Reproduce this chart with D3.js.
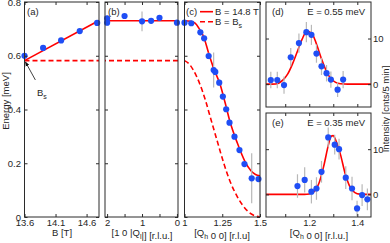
<!DOCTYPE html>
<html>
<head>
<meta charset="utf-8">
<script src="https://cdn.jsdelivr.net/npm/d3@7"></script>
<style>
  body { margin: 0; background: #fff; }
  text { font-family: "Liberation Sans", Arial, sans-serif; font-size: 9.5px; fill: #262626; }
</style>
</head>
<body>
<svg width="390" height="243"></svg>
<script>
// ---- data ----
// (a) energy vs field
const fieldB = [13.6, 13.9, 14.19, 14.49, 14.77];
const fieldE = [0.600, 0.629, 0.657, 0.692, 0.722];
const fieldFitB = [13.6, 14.8];
const fieldFitE = [0.582, 0.731];
const gapBs = 0.582;

// (b) energy vs [1 0 |Ql|]
const qlQ = [2, 2, 1.5, 1, 0.74, 0.5, 0];
const qlE = [0.739, 0.723, 0.748, 0.728, 0.730, 0.741, 0.723];
const qlErr = [0.01, 0.01, 0.01, 0.037, 0.01, 0.01, 0.01];
const qlFit = 0.730;

// (c) energy vs [Qh 0 0]
const qhQ = [1.0, 1.045, 1.105, 1.13, 1.16, 1.193, 1.204, 1.23, 1.254, 1.276, 1.298, 1.331, 1.364, 1.397, 1.445, 1.49];
const qhE = [0.723, 0.721, 0.687, 0.665, 0.599, 0.547, 0.540, 0.500, 0.448, 0.401, 0.351, 0.299, 0.249, 0.197, 0.144, 0.141];
const qhErr = [0.01, 0.01, 0.012, 0.01, 0.012, 0.065, 0.012, 0.012, 0.01, 0.01, 0.01, 0.01, 0.01, 0.01, 0.093, 0.01];
const fitHighQ = [1.0, 1.04, 1.07, 1.095, 1.127, 1.16, 1.193, 1.237, 1.27, 1.3, 1.35, 1.4, 1.44, 1.47, 1.5];
const fitHighE = [0.730, 0.728, 0.721, 0.703, 0.671, 0.609, 0.553, 0.491, 0.423, 0.357, 0.275, 0.207, 0.172, 0.158, 0.153];
const fitBsQ = [1.0, 1.03, 1.06, 1.1, 1.14, 1.17, 1.215, 1.26, 1.3, 1.35, 1.39, 1.43, 1.5];
const fitBsE = [0.582, 0.570, 0.545, 0.497, 0.432, 0.373, 0.286, 0.200, 0.135, 0.075, 0.040, 0.016, 0.0];

// (d) scan at E = 0.55 meV
const scanDQ = [1.04, 1.067, 1.095, 1.123, 1.157, 1.188, 1.209, 1.23, 1.251, 1.272, 1.29, 1.318, 1.341];
const scanDI = [0.9, 0.9, -0.2, 5.9, 9.0, 11.4, 10.8, 6.7, 3.9, 2.4, 1.0, -1.2, 1.0];
const scanDErr = [1.8, 1.8, 1.9, 2.0, 2.1, 2.2, 2.2, 2.0, 1.9, 1.8, 1.8, 1.6, 1.9];
const fitDQ = [1.02, 1.06, 1.09, 1.11, 1.13, 1.15, 1.17, 1.19, 1.21, 1.23, 1.25, 1.27, 1.29, 1.31, 1.33, 1.36, 1.46];
const fitDI = [0, 0.05, 0.9, 2.2, 4.4, 7.1, 9.8, 11.6, 11.2, 8.8, 5.7, 3.0, 1.2, 0.4, 0.1, 0, 0];

// (e) scan at E = 0.35 meV
const scanEQ = [1.151, 1.181, 1.209, 1.23, 1.251, 1.279, 1.306, 1.324, 1.352, 1.378, 1.399, 1.42, 1.442];
const scanEI = [1.85, 3.2, 0.6, 1.3, 5.0, 12.6, 11.0, 10.0, 3.7, 1.3, -3.1, -0.15, -1.1];
const scanEErr = [2.6, 2.8, 2.6, 2.5, 2.4, 2.2, 2.2, 2.3, 2.5, 2.6, 1.7, 2.4, 2.4];
const fitEQ = [1.02, 1.18, 1.2, 1.22, 1.24, 1.26, 1.28, 1.29, 1.3, 1.31, 1.33, 1.35, 1.37, 1.39, 1.41, 1.46];
const fitEI = [0, 0, 0.1, 0.6, 2.4, 6.2, 11.0, 12.8, 13.0, 12.0, 8.8, 4.5, 1.6, 0.4, 0.05, 0];

// ---- layout ----
const svg = d3.select("svg");
const blue = "#1f4ef5", red = "#ff0000", axisColor = "#2b2b2b", errColor = "#b8b8b8";

const box = {
  a: {l: 24.5, r: 99, t: 2, b: 217},
  b: {l: 105, r: 178, t: 2, b: 217},
  c: {l: 184.5, r: 260, t: 2, b: 217},
  d: {l: 266, r: 371, t: 2, b: 107},
  e: {l: 266, r: 371, t: 113, b: 217}
};

const defs = svg.append("defs");
defs.append("marker")
    .attr("id", "arrow")
    .attr("viewBox", "0 0 10 10")
    .attr("refX", 9).attr("refY", 5)
    .attr("markerWidth", 6).attr("markerHeight", 6)
    .attr("orient", "auto")
  .append("path")
    .attr("d", "M0,1 L10,5 L0,9 Z")
    .attr("fill", "#111");

function panel(key, xDomain, yDomain) {
  const bx = box[key];
  const x = d3.scaleLinear().domain(xDomain).range([bx.l, bx.r]);
  const y = d3.scaleLinear().domain(yDomain).range([bx.b, bx.t]);
  defs.append("clipPath").attr("id", "clip-" + key)
    .append("rect")
      .attr("x", bx.l).attr("y", bx.t)
      .attr("width", bx.r - bx.l).attr("height", bx.b - bx.t);
  const g = svg.append("g");
  const plot = g.append("g").attr("clip-path", `url(#clip-${key})`);
  return {bx, x, y, g, plot};
}

function axes(p, o) {
  const {bx, x, y, g} = p;
  const ax = g.append("g").attr("color", axisColor);
  const fx = o.xfmt || (() => "");
  ax.append("g").attr("transform", `translate(0,${bx.b})`)
      .call(d3.axisBottom(x).tickValues(o.xt).tickSize(-3).tickPadding(2.5).tickFormat(fx));
  ax.append("g").attr("transform", `translate(0,${bx.t})`)
      .call(d3.axisTop(x).tickValues(o.xt).tickSize(-3).tickFormat(""));
  ax.append("g").attr("transform", `translate(${bx.l},0)`)
      .call(d3.axisLeft(y).tickValues(o.yt).tickSize(-3).tickPadding(3.5)
        .tickFormat(o.yside === "left" ? o.yfmt : ""));
  ax.append("g").attr("transform", `translate(${bx.r},0)`)
      .call(d3.axisRight(y).tickValues(o.yt).tickSize(-3).tickPadding(2)
        .tickFormat(o.yside === "right" ? o.yfmt : ""));
  ax.selectAll(".domain").remove();
  ax.selectAll("g").attr("font-size", null).attr("font-family", null);
  ax.append("rect")
      .attr("x", bx.l).attr("y", bx.t)
      .attr("width", bx.r - bx.l).attr("height", bx.b - bx.t)
      .attr("fill", "none").attr("stroke", axisColor).attr("stroke-width", 1);
}

function curve(p, xs, ys, dashed) {
  const line = d3.line().x(d => p.x(d[0])).y(d => p.y(d[1])).curve(d3.curveMonotoneX);
  p.plot.append("path")
      .datum(d3.zip(xs, ys).sort((a, b) => a[0] - b[0]))
      .attr("d", line)
      .attr("fill", "none")
      .attr("stroke", red)
      .attr("stroke-width", 1.6)
      .attr("stroke-dasharray", dashed ? "5,3" : null);
}

function points(p, xs, ys, errs) {
  const data = d3.zip(xs, ys, errs || xs.map(() => 0));
  p.plot.append("g").selectAll("line")
      .data(data.filter(d => d[2] > 0))
      .enter().append("line")
      .attr("x1", d => p.x(d[0])).attr("x2", d => p.x(d[0]))
      .attr("y1", d => p.y(d[1] - d[2])).attr("y2", d => p.y(d[1] + d[2]))
      .attr("stroke", errColor).attr("stroke-width", 1.2);
  p.g.append("g").selectAll("circle")
      .data(data)
      .enter().append("circle")
      .attr("cx", d => p.x(d[0])).attr("cy", d => p.y(d[1]))
      .attr("r", 3.1)
      .attr("fill", blue);
}

function label(x, y, parts, anchor, rotate) {
  const t = svg.append("text")
      .attr("text-anchor", anchor || "start")
      .attr("transform", rotate ? `translate(${x},${y}) rotate(-90)` : `translate(${x},${y})`);
  parts.forEach(s => {
    if (typeof s === "string") {
      t.append("tspan").text(s);
    } else {
      t.append("tspan").attr("dy", 2.5).style("font-size", "7px").text(s.sub);
      t.append("tspan").attr("dy", -2.5).text("");
    }
  });
  return t;
}

const energyFmt = d => d === 0 ? "0" : d3.format(".1f")(d);

// (a)
const pa = panel("a", [13.6, 14.8], [0, 0.8]);
curve(pa, [13.6, 14.8], [gapBs, gapBs], true);
curve(pa, fieldFitB, fieldFitE, false);
points(pa, fieldB, fieldE);
axes(pa, {xt: [13.6, 14.1, 14.6], xfmt: d3.format(".1f"), yt: [0, 0.2, 0.4, 0.6, 0.8], yside: "left", yfmt: energyFmt});
svg.append("line")
    .attr("x1", pa.x(13.775)).attr("y1", pa.y(0.51))
    .attr("x2", pa.x(13.615)).attr("y2", pa.y(0.577))
    .attr("stroke", "#111").attr("stroke-width", 0.8)
    .attr("marker-end", "url(#arrow)");
label(pa.x(13.8), pa.y(0.45), ["B", {sub: "s"}]);

// (b)
const pb = panel("b", [2.06, -0.03], [0, 0.8]);
curve(pb, [2.06, -0.03], [gapBs, gapBs], true);
curve(pb, [2.06, -0.03], [qlFit, qlFit], false);
points(pb, qlQ, qlE, qlErr);
axes(pb, {xt: [2, 1.5, 1, 0.5, 0], xfmt: d => Number.isInteger(d) ? d : "", yt: [0, 0.2, 0.4, 0.6, 0.8]});

// (c)
const pc = panel("c", [1, 1.5], [0, 0.8]);
curve(pc, fitBsQ, fitBsE, true);
curve(pc, fitHighQ, fitHighE, false);
points(pc, qhQ, qhE, qhErr);
axes(pc, {xt: [1, 1.25, 1.5], xfmt: d => d, yt: [0, 0.2, 0.4, 0.6, 0.8]});

// legend in (c)
svg.append("line").attr("x1", 200).attr("x2", 213).attr("y1", 11.7).attr("y2", 11.7)
    .attr("stroke", red).attr("stroke-width", 1.6);
svg.append("line").attr("x1", 200).attr("x2", 213).attr("y1", 21.7).attr("y2", 21.7)
    .attr("stroke", red).attr("stroke-width", 1.6).attr("stroke-dasharray", "5,3");
label(215, 15, ["B = 14.8 T"]);
label(215, 25, ["B = B", {sub: "s"}]);

// (d)
const pd = panel("d", [1.02, 1.457], [-5, 18]);
curve(pd, fitDQ, fitDI, false);
points(pd, scanDQ, scanDI, scanDErr);
axes(pd, {xt: [1.1, 1.2, 1.3, 1.4], yt: [0, 10], yside: "right", yfmt: d => d});

// (e)
const pe = panel("e", [1.02, 1.457], [-5, 18]);
curve(pe, fitEQ, fitEI, false);
points(pe, scanEQ, scanEI, scanEErr);
axes(pe, {xt: [1.1, 1.2, 1.3, 1.4], xfmt: d => (d === 1.2 || d === 1.4) ? d : "", yt: [0, 10], yside: "right", yfmt: d => d});

// panel tags and titles
label(27, 15, ["(a)"]);
label(108, 15, ["(b)"]);
label(186, 15, ["(c)"]);
label(272, 15, ["(d)"]);
label(272, 126, ["(e)"]);
label(365, 15, ["E = 0.55 meV"], "end");
label(365, 126, ["E = 0.35 meV"], "end");

// axis titles
label(9, 101, ["Energy [meV]"], "middle", true);
label(389, 109, ["Intensity [cnts/5 min]"], "middle", true);
label(62, 236, ["B [T]"], "middle");
label(142, 236, ["[1 0 |Q", {sub: "l"}, "|] [r.l.u.]"], "middle");
label(222, 236, ["[Q", {sub: "h"}, " 0 0] [r.l.u]"], "middle");
label(319, 236, ["[Q", {sub: "h"}, " 0 0] [r.l.u.]"], "middle");
</script>
</body>
</html>
